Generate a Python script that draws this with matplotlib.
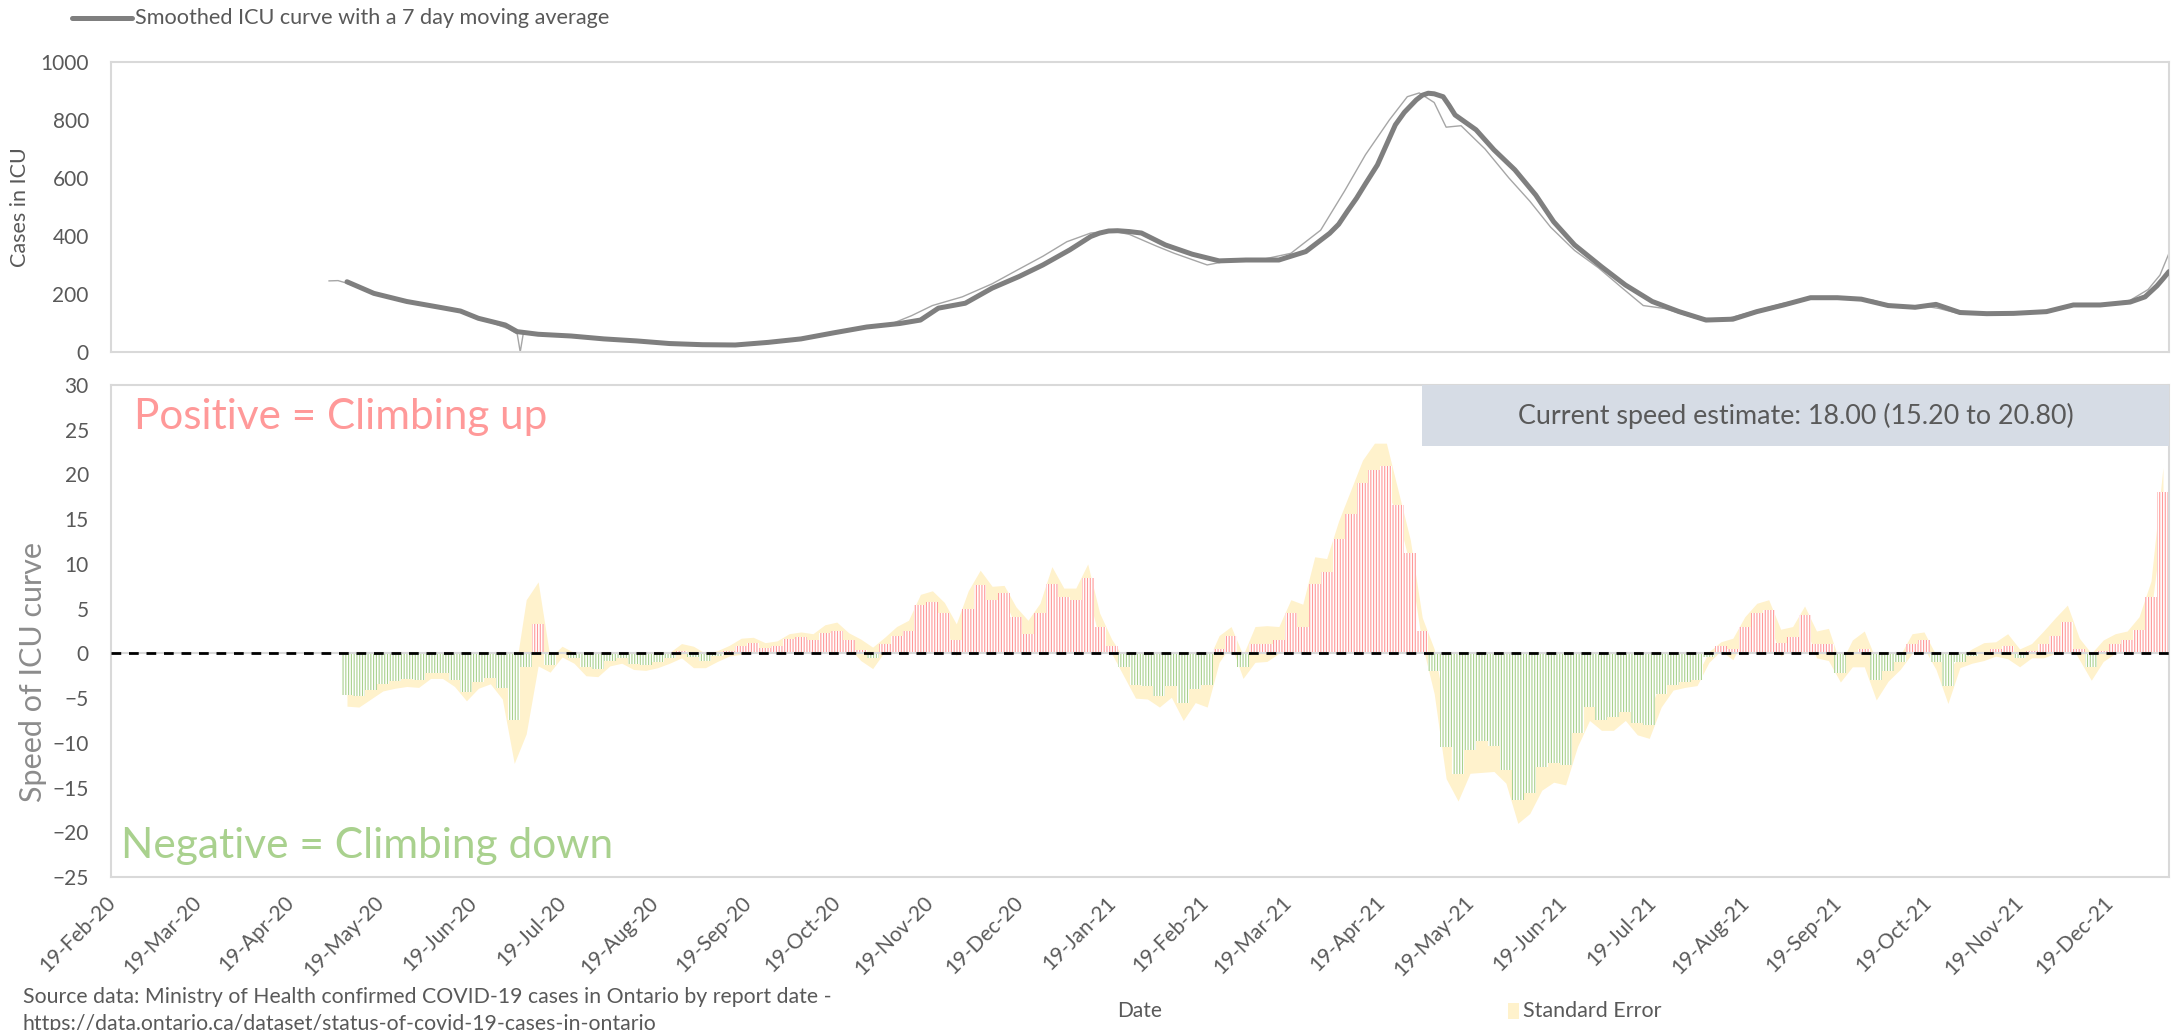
import pandas as pd
import matplotlib
matplotlib.use('Agg')
import matplotlib.pyplot as plt
import matplotlib.dates as mdates
from matplotlib.patches import Rectangle
from matplotlib.lines import Line2D
from matplotlib.transforms import ScaledTranslation

plt.rcParams['font.family'] = ['Lato', 'DejaVu Sans']
plt.rcParams['hatch.linewidth'] = 0.8

# ICU census - 7 day moving average (thick curve)
smooth_dates = ['2020-05-04', '2020-05-13', '2020-05-24', '2020-06-04', '2020-06-11', '2020-06-17',
                '2020-06-26', '2020-06-30', '2020-07-07', '2020-07-18', '2020-07-29', '2020-08-09',
                '2020-08-20', '2020-08-31', '2020-09-11', '2020-09-22', '2020-10-03', '2020-10-14',
                '2020-10-25', '2020-11-05', '2020-11-12', '2020-11-18', '2020-11-27', '2020-12-06',
                '2020-12-15', '2020-12-23', '2021-01-01', '2021-01-08', '2021-01-11', '2021-01-14',
                '2021-01-17', '2021-01-21',
                '2021-01-25', '2021-02-02', '2021-02-11', '2021-02-20', '2021-03-01', '2021-03-12',
                '2021-03-21', '2021-03-29', '2021-04-01', '2021-04-04', '2021-04-07', '2021-04-10',
                '2021-04-14', '2021-04-17', '2021-04-20', '2021-04-23', '2021-04-27',
                '2021-04-29', '2021-05-01', '2021-05-03', '2021-05-06', '2021-05-08', '2021-05-10',
                '2021-05-17', '2021-05-23', '2021-05-30',
                '2021-06-06', '2021-06-12', '2021-06-19', '2021-06-28', '2021-07-06', '2021-07-15',
                '2021-07-24', '2021-08-02', '2021-08-11', '2021-08-19', '2021-08-28', '2021-09-06',
                '2021-09-15', '2021-09-23', '2021-10-02', '2021-10-11', '2021-10-18', '2021-10-26',
                '2021-11-04', '2021-11-13', '2021-11-24', '2021-12-03', '2021-12-12', '2021-12-22',
                '2021-12-27', '2021-12-31', '2022-01-02', '2022-01-04']
smooth_icu = [242, 202, 174, 154, 141, 116,
              93, 70, 61, 55, 45, 38,
              29, 25, 24, 33, 45, 66,
              86, 98, 110, 151, 168, 220,
              260, 300, 352, 398, 410, 417,
              418, 415,
              410, 369, 337, 314, 317, 317,
              346, 409, 440, 486, 530, 580,
              645, 714, 783, 826, 869,
              885, 892, 890, 880, 850, 817,
              766, 697, 628,
              541, 449, 369, 294, 231, 174,
              139, 110, 113, 139, 162, 187,
              187, 182, 160, 154, 164, 136,
              132, 133, 139, 162, 162, 172,
              190, 228, 252, 277]

# ICU census - daily values (thin curve)
raw_dates = ['2020-04-28', '2020-05-01', '2020-05-03', '2020-05-10', '2020-05-20', '2020-05-30',
             '2020-06-09', '2020-06-19', '2020-06-27', '2020-06-30', '2020-07-01', '2020-07-02',
             '2020-07-09', '2020-07-19', '2020-07-29', '2020-08-08', '2020-08-18', '2020-08-28',
             '2020-09-07', '2020-09-17', '2020-09-27', '2020-10-07', '2020-10-17', '2020-10-27',
             '2020-11-03', '2020-11-09', '2020-11-16', '2020-11-26', '2020-12-06', '2020-12-14',
             '2020-12-23', '2020-12-31', '2021-01-08', '2021-01-15', '2021-01-21', '2021-01-30',
             '2021-02-05', '2021-02-16', '2021-02-24', '2021-03-06', '2021-03-16', '2021-03-26',
             '2021-04-03', '2021-04-10', '2021-04-18', '2021-04-24', '2021-04-28', '2021-05-03',
             '2021-05-07', '2021-05-12', '2021-05-20', '2021-05-28', '2021-06-04', '2021-06-11',
             '2021-06-19', '2021-06-27', '2021-07-05', '2021-07-12', '2021-07-19', '2021-07-29',
             '2021-08-08', '2021-08-18', '2021-08-28', '2021-09-07', '2021-09-17', '2021-09-27',
             '2021-10-05', '2021-10-13', '2021-10-19', '2021-10-25', '2021-11-04', '2021-11-16',
             '2021-11-26', '2021-12-04', '2021-12-14', '2021-12-22', '2021-12-28', '2022-01-01',
             '2022-01-04']
raw_icu = [245, 246, 240, 215, 183, 160,
           143, 110, 80, 62, 0, 62,
           58, 52, 43, 36, 28, 24,
           23, 28, 38, 55, 75, 88,
           100, 125, 160, 190, 235, 280,
           330, 380, 410, 418, 405, 365,
           340, 300, 316, 318, 340, 420,
           555, 680, 800, 880, 893, 860,
           775, 780, 700, 600, 520, 430,
           350, 290, 220, 160, 150, 118,
           112, 140, 168, 186, 186, 178,
           155, 160, 150, 134, 132, 134,
           145, 160, 165, 178, 215, 265,
           340]

# speed of the ICU curve, one value every 4 days from 4-May-20
speed_start = '2020-05-04'
speed_step_days = 4
speed = [-4.7, -4.8, -4.1, -3.4, -3.1, -2.9, -3.0, -2.2, -2.2, -3.0,
         -4.3, -3.2, -2.8, -3.9, -7.5, -1.5, 3.3, -1.3, 0.2, -0.5,
         -1.5, -1.8, -0.8, -0.5, -1.2, -1.3, -1.0, -0.5, 0.3, -0.4,
         -0.8, -0.3, 0.3, 0.8, 1.2, 0.6, 0.8, 1.6, 1.8, 1.5,
         2.3, 2.5, 1.5, 0.4, -0.5, 1.0, 2.0, 2.5, 5.4, 5.8,
         4.5, 1.5, 5.0, 7.6, 6.0, 6.8, 4.1, 2.2, 4.5, 7.8,
         6.3, 6.0, 8.4, 3.0, 0.8, -1.5, -3.5, -3.7, -4.8, -3.7,
         -5.5, -4.0, -3.5, 0.5, 2.0, -1.5, 1.0, 1.1, 1.5, 4.5,
         3.0, 7.8, 9.1, 12.8, 15.6, 19.0, 20.5, 20.9, 16.6, 11.2,
         2.5, -2.0, -10.5, -13.5, -10.8, -9.8, -10.4, -13.0, -16.4, -15.6,
         -12.7, -12.2, -12.5, -8.9, -6.0, -7.4, -7.1, -6.5, -7.8, -8.0,
         -4.5, -3.5, -3.2, -3.0, -0.4, 0.8, 0.5, 3.0, 4.5, 4.8,
         1.2, 1.8, 4.3, 1.0, 1.0, -2.2, 0.0, 0.5, -3.0, -2.0,
         -1.0, 1.1, 1.5, -1.0, -3.7, -1.0, -0.3, 0.2, 0.5, 0.8,
         -0.5, 0.3, 1.0, 2.0, 3.5, 0.5, -1.5, 0.3, 1.1, 1.5,
         2.6, 6.3, 18.0]
speed_se = [1.2, 1.2, 1.0, 0.8, 0.8, 0.8, 0.8, 0.6, 0.6, 0.7,
            1.0, 0.7, 0.6, 1.2, 4.8, 7.5, 4.7, 0.8, 0.6, 0.6,
            1.0, 0.8, 0.6, 0.6, 0.6, 0.6, 0.6, 0.6, 0.8, 1.2,
            0.8, 0.6, 0.6, 0.9, 0.6, 0.6, 0.6, 0.6, 0.6, 0.7,
            0.9, 1.0, 0.8, 1.2, 1.2, 0.8, 1.0, 1.2, 1.2, 1.2,
            1.2, 1.8, 2.0, 1.7, 1.5, 0.8, 1.1, 1.5, 1.1, 1.9,
            1.0, 1.3, 1.6, 1.5, 0.8, 1.0, 1.5, 1.4, 1.2, 1.2,
            2.0, 1.5, 2.5, 1.5, 1.0, 1.3, 2.0, 2.0, 1.5, 1.5,
            2.5, 3.0, 1.5, 2.0, 2.6, 2.6, 3.0, 2.6, 1.5, 1.5,
            1.5, 2.5, 3.5, 3.0, 2.6, 3.5, 2.8, 1.5, 2.6, 2.3,
            2.6, 2.2, 2.2, 1.5, 1.5, 1.2, 1.5, 1.0, 1.3, 1.5,
            1.5, 0.6, 0.6, 0.6, 0.6, 0.5, 1.2, 1.1, 1.1, 1.2,
            1.5, 1.2, 1.0, 1.5, 1.8, 1.0, 1.5, 2.0, 2.2, 1.1,
            0.8, 1.1, 0.9, 0.8, 1.9, 0.6, 0.8, 1.0, 0.8, 1.4,
            1.0, 0.8, 1.5, 2.0, 1.9, 1.2, 1.5, 1.2, 1.1, 1.0,
            1.5, 1.8, 2.8]

current_speed = 18.00
current_low = 15.20
current_high = 20.80

grey_txt = '#595959'
frame = '#D9D9D9'

smooth_x = pd.to_datetime(smooth_dates)
raw_x = pd.to_datetime(raw_dates)
speed_x = pd.date_range(speed_start, periods=len(speed), freq=f'{speed_step_days}D')
lower = [s - e for s, e in zip(speed, speed_se)]
upper = [s + e for s, e in zip(speed, speed_se)]
bar_cols = ['#FF9999' if s >= 0 else '#A9D18E' for s in speed]

x_lo = pd.Timestamp('2020-02-15')
x_hi = pd.Timestamp('2022-01-04')

fig = plt.figure(figsize=(21.77, 10.30), dpi=100)
ax1 = fig.add_axes([0.051, 0.6583, 0.9453, 0.2816])
ax2 = fig.add_axes([0.051, 0.1485, 0.9453, 0.4777])

# --- top panel: ICU census
ax1.plot(raw_x, raw_icu, color='#A6A6A6', lw=1.0, zorder=2)
ax1.plot(smooth_x, smooth_icu, color='#7F7F7F', lw=3.6, solid_capstyle='round',
         solid_joinstyle='round', zorder=3)
ax1.set_ylim(0, 1000)
ax1.set_yticks(range(0, 1001, 200))
ax1.set_xlim(x_lo, x_hi)
ax1.tick_params(axis='x', labelbottom=False, length=0)

# --- bottom panel: speed of the curve
ax2.fill_between(speed_x, lower, upper, color='#FFF2CC', lw=0, zorder=1)
ax2.bar(speed_x, speed, width=speed_step_days, color='white', edgecolor=bar_cols,
        linewidth=0, hatch='||||||', zorder=2)
ax2.axhline(0, color=frame, lw=1.5, zorder=3)
ax2.axhline(0, color='black', lw=2.0, ls=(0, (3.5, 2.8)), zorder=4)
ax2.set_ylim(-25, 30)
ax2.set_yticks(range(-25, 31, 5))
ax2.set_xlim(x_lo, x_hi)
ax2.xaxis.set_major_locator(mdates.MonthLocator(bymonthday=19))
ax2.xaxis.set_major_formatter(mdates.DateFormatter('%d-%b-%y'))

for ax in (ax1, ax2):
    for sp in ax.spines.values():
        sp.set_color(frame)
        sp.set_linewidth(1.5)
    ax.tick_params(axis='y', length=0, pad=16, labelsize=15, labelcolor=grey_txt)
ax2.tick_params(axis='x', length=0, pad=9, labelsize=15, labelcolor=grey_txt)
shift = ScaledTranslation(-0.18, -0.03, fig.dpi_scale_trans)
for lab in ax2.get_xticklabels():
    lab.set_rotation(45)
    lab.set_ha('right')
    lab.set_rotation_mode('anchor')
    lab.set_transform(lab.get_transform() + shift)

# current speed box
ax2.add_patch(Rectangle((0.637, 0.876), 0.363, 0.124, transform=ax2.transAxes,
                        facecolor='#D6DCE5', edgecolor='none', zorder=6))
ax2.text(0.8185, 0.938, f'Current speed estimate: {current_speed:.2f} '
         f'({current_low:.2f} to {current_high:.2f})', transform=ax2.transAxes,
         ha='center', va='center', fontsize=19.4, color=grey_txt, zorder=7)

fig.text(134 / 2177, 1 - 429 / 1030, 'Positive = Climbing up', fontsize=30.4,
         color='#FF9999', va='baseline')
fig.text(121 / 2177, 1 - 858 / 1030, 'Negative = Climbing down', fontsize=30.5,
         color='#A9D18E', va='baseline')

# axis titles
fig.text(20 / 2177, 1 - 207 / 1030, 'Cases in ICU', rotation=90, ha='center', va='center',
         fontsize=15.5, color=grey_txt)
fig.text(33 / 2177, 1 - 672 / 1030, 'Speed of ICU curve', rotation=90, ha='center', va='center',
         fontsize=22, color='#8C8C8C')
fig.text(1140 / 2177, 1 - 1011 / 1030, 'Date', ha='center', va='center', fontsize=15,
         color=grey_txt)

# legends
fig.add_artist(Line2D([72 / 2177, 132 / 2177], [1 - 18 / 1030, 1 - 18 / 1030],
                      color='#7F7F7F', lw=3.6, solid_capstyle='round'))
fig.text(135 / 2177, 1 - 18 / 1030, 'Smoothed ICU curve with a 7 day moving average',
         va='center', fontsize=15.6, color=grey_txt)
fig.add_artist(Rectangle((1508 / 2177, 1 - 1019 / 1030), 11 / 2177, 16 / 1030,
                         facecolor='#FFF2CC', edgecolor='none'))
fig.text(1523 / 2177, 1 - 1011 / 1030, 'Standard Error', va='center', fontsize=15.5,
         color=grey_txt)

# source note (second line runs off the bottom edge, as in the original)
fig.text(23 / 2177, 1 - 997 / 1030,
         'Source data: Ministry of Health confirmed COVID-19 cases in Ontario by report date -',
         va='center', fontsize=15.3, color=grey_txt)
fig.text(23 / 2177, 1 - 1024 / 1030,
         'https://data.ontario.ca/dataset/status-of-covid-19-cases-in-ontario',
         va='center', fontsize=15.3, color=grey_txt)

fig.savefig('out.png', dpi=100)
